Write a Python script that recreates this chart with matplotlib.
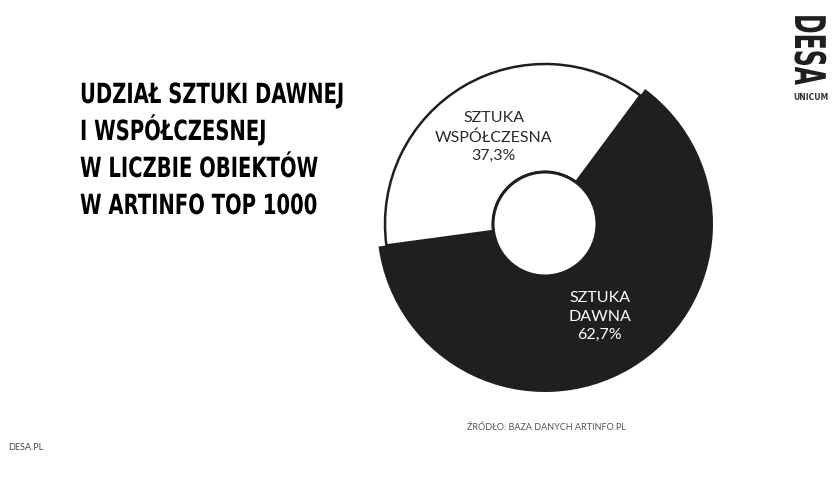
import matplotlib
matplotlib.use("Agg")
import numpy as np
import matplotlib.pyplot as plt
from matplotlib import patheffects
from matplotlib.transforms import Affine2D

# data
labels = ["SZTUKA\nDAWNA", "SZTUKA\nWSPÓŁCZESNA"]
shares = [62.7, 37.3]
pct_labels = ["62,7%", "37,3%"]
title_lines = ["UDZIAŁ SZTUKI DAWNEJ", "I WSPÓŁCZESNEJ", "W LICZBIE OBIEKTÓW", "W ARTINFO TOP 1000"]
source = "ŹRÓDŁO: BAZA DANYCH ARTINFO.PL"

dark = "#1f1f1f"


### squeeze/stretch glyphs (no condensed font installed)
class Squeeze(patheffects.AbstractPathEffect):
    def __init__(self, sx, sy=1.0):
        super().__init__()
        self.sx = sx
        self.sy = sy

    def draw_path(self, renderer, gc, tpath, affine, rgbFace=None):
        renderer.draw_path(gc, tpath, Affine2D().scale(self.sx, self.sy) + affine, rgbFace)


fig = plt.figure(figsize=(8.4, 4.8), dpi=100)
fig.patch.set_facecolor("white")

### donut
ax = fig.add_axes([377 / 840, (480 - 392) / 480, 336 / 840, 336 / 480])
wedges, _ = ax.pie(shares, colors=[dark, "white"], startangle=187.7, counterclock=True,
                   radius=1.0, wedgeprops=dict(width=0.69, linewidth=0))
# white slice is a bit smaller, with an outline
w = wedges[1]
w.set_radius(160 / 168)
w.set_width((160 - 52) / 168)
w.set_edgecolor(dark)
w.set_linewidth(1.8)
hole = plt.Circle((0, 0), 52 / 168, facecolor="white", edgecolor=dark, linewidth=2.2, zorder=3)
ax.add_patch(hole)
ax.set_xlim(-1, 1)
ax.set_ylim(-1, 1)
ax.set_aspect("equal")
ax.axis("off")

txt_col = ["white", "#2a2a2a"]
lab_r = [0.64, 0.60]
for i, wd in enumerate(wedges):
    mid = np.deg2rad((wd.theta1 + wd.theta2) / 2)
    ax.text(lab_r[i] * np.cos(mid), lab_r[i] * np.sin(mid), labels[i] + "\n" + pct_labels[i],
            ha="center", va="center", fontsize=11.5, color=txt_col[i],
            family="Lato", fontweight="normal", linespacing=1.4, zorder=4)

### title
for k, line in enumerate(title_lines):
    fig.text(80 / 840, 1 - (103 + k * 37) / 480, line, ha="left", va="baseline",
             fontsize=20, fontweight="bold", color="black", family="DejaVu Sans",
             path_effects=[Squeeze(0.705)])

### logo + footer
fig.text(795 / 840, 1 - 14 / 480, "DESA", rotation=-90, rotation_mode="anchor",
         ha="left", va="baseline", fontsize=17, fontweight="bold", color=dark,
         family="DejaVu Sans", path_effects=[Squeeze(1.0, 1.79)])
fig.text(811 / 840, 1 - 98 / 480, "UNICUM", ha="center", va="center",
         fontsize=5.5, fontweight="bold", color="#333333", family="DejaVu Sans")
fig.text(546 / 840, 1 - 428 / 480, source, ha="center", va="center",
         fontsize=6.5, color="#555555", family="Lato")
fig.text(8 / 840, 1 - 447 / 480, "DESA.PL", ha="left", va="center",
         fontsize=6.5, color="#444444", family="Lato")

fig.savefig("out.png", dpi=100, facecolor="white")
